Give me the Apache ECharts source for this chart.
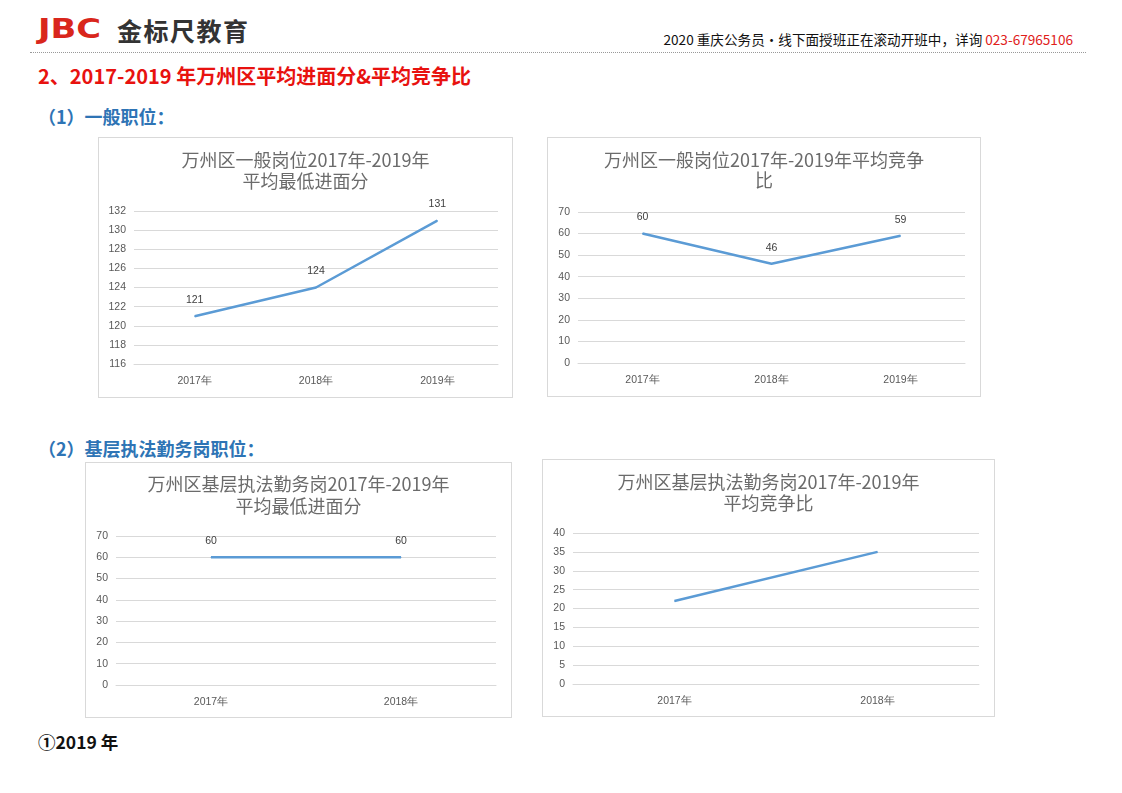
<!DOCTYPE html>
<html>
<head>
<meta charset="utf-8">
<script src="https://cdn.jsdelivr.net/npm/echarts@6/dist/echarts.min.js"></script>
<style>
  body { margin: 0; width: 1122px; height: 793px; background: #fff; position: relative; overflow: hidden;
         font-family: "Noto Sans CJK SC", "Noto Sans", sans-serif; }
  .abs { position: absolute; white-space: nowrap; }
  .logo { left: 38px; top: 14px; font: 900 26px "DejaVu Sans", sans-serif; color: #d9261c;
          transform: scaleX(1.3); transform-origin: left top; }
  .brand { left: 117px; top: 12px; font-size: 25px; font-weight: 700; color: #333; letter-spacing: 1.5px; }
  .notice { right: 49px; top: 29px; font-size: 13.6px; color: #111; }
  .notice span { color: #e0201a; }
  .dots { left: 30px; top: 52px; width: 1056px; border-top: 1px dotted #999; }
  .h2 { left: 38px; top: 61px; font-size: 20px; font-weight: 700; color: #e8120f; }
  .h3 { left: 38px; font-size: 18px; font-weight: 700; color: #2e74b5; }
  .h4 { left: 38px; top: 729px; font-size: 17.5px; font-weight: 700; color: #111; }
  .box { position: absolute; border: 1px solid #d9d9d9; box-sizing: border-box; background: #fff; }
</style>
</head>
<body>
<div class="abs logo">JBC</div>
<div class="abs brand">金标尺教育</div>
<div class="abs notice">2020 重庆公务员·线下面授班正在滚动开班中，详询 <span>023-67965106</span></div>
<div class="abs dots"></div>
<div class="abs h2">2、2017-2019 年万州区平均进面分&amp;平均竞争比</div>
<div class="abs h3" style="top:103px">（1）一般职位：</div>
<div class="abs h3" style="top:435px">（2）基层执法勤务岗职位：</div>
<div class="abs h4">①2019 年</div>

<div class="box" id="c1" style="left:98px;top:137px;width:415px;height:261px"></div>
<div class="box" id="c2" style="left:547px;top:137px;width:434px;height:260px"></div>
<div class="box" id="c3" style="left:85px;top:462px;width:427px;height:256px"></div>
<div class="box" id="c4" style="left:542px;top:459px;width:453px;height:258px"></div>

<script>
// 数据
const years3 = ["2017年", "2018年", "2019年"];
const years2 = ["2017年", "2018年"];
const generalScore = [121, 124, 131];   // 一般岗位 平均最低进面分
const generalRatio = [60, 46, 59];      // 一般岗位 平均竞争比
const lawScore = [60, 60];              // 基层执法勤务岗 平均最低进面分
const lawRatio = [22, 35];              // 基层执法勤务岗 平均竞争比

const lineColor = "#5b9bd5";
const textGray = "#595959";

function makeOption(cfg) {
    return {
        animation: false,
        title: {
            text: cfg.title,
            left: "center",
            top: cfg.titleTop,
            textStyle: {
                fontFamily: "Noto Sans CJK SC",
                fontSize: 18,
                fontWeight: "normal",
                color: "#6b6b6b",
                lineHeight: cfg.titleLH,
            },
        },
        grid: cfg.grid,
        xAxis: {
            type: "category",
            data: cfg.cats,
            boundaryGap: true,
            axisLine: { lineStyle: { color: "#d9d9d9" } },
            axisTick: { show: false },
            axisLabel: { color: textGray, fontSize: 10.5, margin: 12 },
        },
        yAxis: {
            type: "value",
            min: cfg.min,
            max: cfg.max,
            interval: cfg.interval,
            axisLine: { show: false },
            axisTick: { show: false },
            axisLabel: { color: textGray, fontSize: 10.5, margin: 8 },
            splitLine: { lineStyle: { color: "#d9d9d9" } },
        },
        series: [
            {
                type: "line",
                data: cfg.data,
                symbol: "circle",
                symbolSize: 1,
                itemStyle: { color: lineColor },
                lineStyle: { color: lineColor, width: 2.5 },
                label: {
                    show: cfg.labels,
                    position: "top",
                    distance: 10,
                    color: "#404040",
                    fontSize: 10.5,
                },
            },
        ],
    };
}

const charts = [
    ["c1", {
        title: "万州区一般岗位2017年-2019年\n平均最低进面分", titleTop: 7, titleLH: 21,
        grid: { left: 35, right: 14, top: 73, bottom: 33 },
        cats: years3, data: generalScore, min: 116, max: 132, interval: 2, labels: true,
    }],
    ["c2", {
        title: "万州区一般岗位2017年-2019年平均竞争\n比", titleTop: 7, titleLH: 20,
        grid: { left: 30, right: 15, top: 74, bottom: 33 },
        cats: years3, data: generalRatio, min: 0, max: 70, interval: 10, labels: true,
    }],
    ["c3", {
        title: "万州区基层执法勤务岗2017年-2019年\n平均最低进面分", titleTop: 5, titleLH: 22,
        grid: { left: 30, right: 15, top: 73, bottom: 32 },
        cats: years2, data: lawScore, min: 0, max: 70, interval: 10, labels: true,
    }],
    ["c4", {
        title: "万州区基层执法勤务岗2017年-2019年\n平均竞争比", titleTop: 7, titleLH: 21,
        grid: { left: 30, right: 15, top: 73, bottom: 32 },
        cats: years2, data: lawRatio, min: 0, max: 40, interval: 5, labels: false,
    }],
];

charts.forEach(([id, cfg]) => {
    const chart = echarts.init(document.getElementById(id));
    chart.setOption(makeOption(cfg));
});
</script>
</body>
</html>
